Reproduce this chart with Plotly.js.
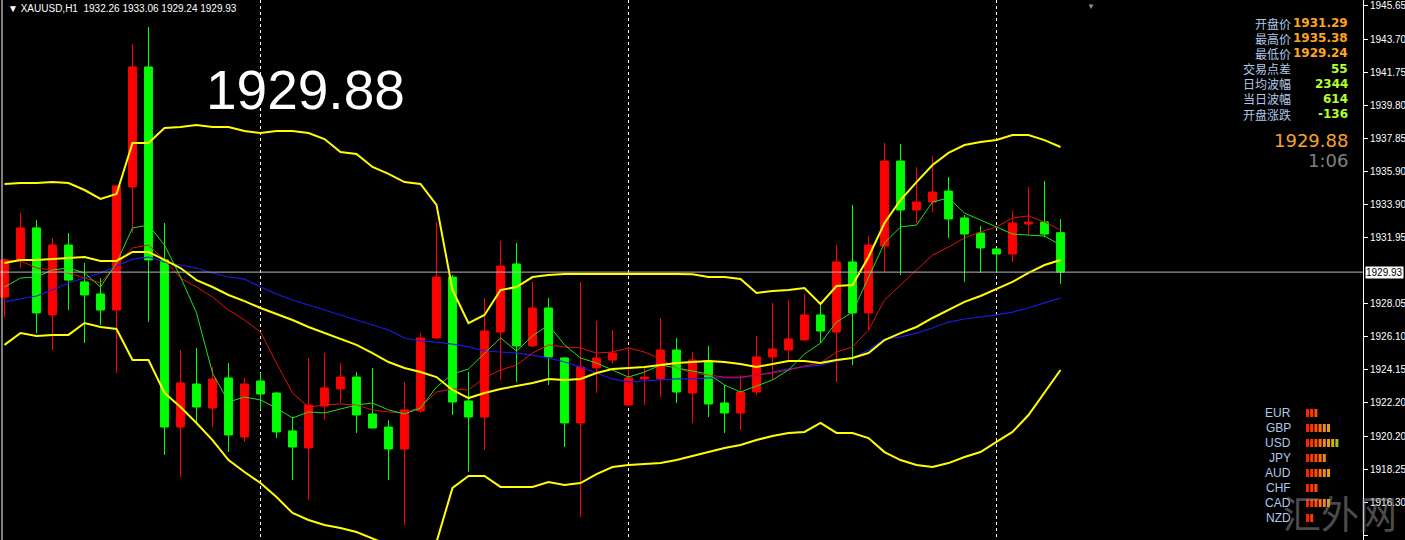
<!DOCTYPE html>
<html><head><meta charset="utf-8">
<script src="https://cdn.plot.ly/plotly-3.0.1.min.js"></script>
<style>html,body{margin:0;padding:0;background:#000;overflow:hidden}#chart{width:1405px;height:540px}</style>
</head><body><div id="chart"></div>
<script>
// ---------------- DATA ----------------
const symbol = 'XAUUSD,H1';
const openP = [1928.46,1930.65,1932.54,1927.40,1931.53,1929.35,1928.64,1927.69,1934.96,1942.05,
 1930.65,1920.78,1923.32,1921.90,1923.68,1920.19,1923.50,1922.79,1920.55,1919.54,
 1922.02,1923.03,1923.73,1921.55,1920.78,1919.48,1921.73,1926.04,1929.64,1922.32,
 1921.37,1926.39,1930.41,1925.57,1927.81,1924.86,1921.02,1924.27,1924.74,1922.08,
 1923.62,1923.62,1925.33,1922.79,1924.68,1922.20,1921.61,1922.85,1924.92,1925.33,
 1925.92,1927.40,1926.39,1930.53,1927.52,1931.47,1936.49,1933.60,1934.07,1934.72,
 1933.13,1932.24,1931.30,1931.00,1932.77,1932.89,1932.26];
const highP = [1930.76,1933.42,1933.01,1931.95,1932.24,1930.47,1929.58,1935.05,1943.41,1944.41,
 1932.83,1925.33,1925.45,1924.33,1924.56,1923.68,1923.97,1922.85,1921.37,1924.86,
 1925.15,1924.56,1924.03,1924.27,1921.19,1923.44,1926.33,1932.89,1929.76,1924.03,
 1928.40,1931.77,1931.65,1929.35,1928.40,1924.90,1929.35,1927.04,1926.51,1925.51,
 1924.33,1927.22,1926.04,1925.21,1925.57,1923.26,1923.85,1926.16,1928.11,1928.28,
 1928.64,1927.99,1931.53,1933.90,1932.06,1937.56,1937.50,1936.14,1936.79,1935.55,
 1933.30,1932.65,1931.35,1933.54,1934.96,1935.31,1933.06];
const lowP = [1927.28,1930.17,1926.33,1925.33,1927.69,1925.74,1926.81,1923.97,1932.24,1926.98,
 1919.13,1917.83,1921.02,1920.78,1919.30,1919.90,1921.79,1920.13,1917.65,1916.47,
 1921.19,1922.20,1920.43,1920.70,1917.65,1914.99,1921.61,1925.98,1921.49,1918.12,
 1919.42,1923.56,1923.44,1925.50,1923.26,1919.60,1915.47,1922.79,1924.50,1922.02,
 1922.08,1922.55,1922.20,1921.02,1921.37,1920.43,1920.60,1922.67,1923.56,1924.74,
 1925.90,1925.74,1923.44,1924.44,1926.51,1929.94,1929.76,1932.83,1933.48,1931.95,
 1929.35,1929.88,1929.88,1930.53,1932.12,1932.00,1929.24];
const closeP = [1930.65,1932.54,1927.52,1931.53,1929.46,1928.58,1927.69,1935.02,1942.05,1930.65,
 1920.78,1923.38,1921.96,1923.62,1920.31,1923.32,1922.73,1920.49,1919.60,1922.08,
 1923.09,1923.73,1921.49,1920.72,1919.48,1921.79,1926.04,1929.64,1922.26,1921.37,
 1926.45,1930.29,1925.57,1927.81,1924.92,1921.02,1924.33,1924.86,1925.15,1923.68,
 1923.73,1925.33,1922.85,1924.74,1922.14,1921.61,1922.85,1924.92,1925.39,1925.98,
 1927.40,1926.45,1930.53,1927.52,1931.53,1936.49,1933.60,1934.07,1934.66,1933.07,
 1932.18,1931.36,1931.00,1932.83,1932.89,1932.18,1929.93];

const bbUpper = [1935.14,1935.19,1935.19,1935.25,1935.19,1934.78,1934.25,1934.54,1937.56,1937.56,
 1938.44,1938.50,1938.62,1938.50,1938.50,1938.27,1938.15,1938.27,1938.27,1938.15,
 1937.79,1937.03,1936.91,1936.14,1935.73,1935.25,1935.14,1933.90,1928.87,1926.92,
 1927.40,1928.87,1929.05,1929.64,1929.76,1929.82,1929.82,1929.82,1929.82,1929.82,
 1929.82,1929.85,1929.82,1929.80,1929.64,1929.64,1929.52,1928.70,1928.81,1928.87,
 1928.99,1928.05,1929.11,1929.17,1930.82,1932.83,1934.19,1935.25,1936.26,1936.97,
 1937.44,1937.62,1937.73,1938.03,1938.03,1937.73,1937.32];
const bbMiddle = [1930.47,1930.65,1930.65,1930.70,1930.76,1930.82,1930.59,1930.59,1931.12,1931.12,
 1930.65,1930.17,1929.46,1929.05,1928.58,1928.22,1927.81,1927.46,1927.10,1926.69,
 1926.33,1925.98,1925.63,1925.15,1924.62,1924.27,1924.03,1923.73,1922.97,1922.49,
 1922.79,1923.03,1923.20,1923.38,1923.62,1923.56,1923.62,1923.97,1924.21,1924.27,
 1924.33,1924.44,1924.56,1924.62,1924.68,1924.62,1924.50,1924.33,1924.50,1924.68,
 1924.68,1924.56,1924.74,1924.86,1925.15,1925.92,1926.33,1926.69,1927.22,1927.69,
 1928.17,1928.52,1928.93,1929.35,1929.88,1930.35,1930.65];
const bbLower = [1925.63,1926.33,1926.16,1926.22,1926.22,1926.92,1926.69,1926.57,1924.74,1924.74,
 1922.79,1921.96,1921.02,1920.01,1918.83,1918.12,1917.47,1916.65,1915.70,1915.29,
 1914.99,1914.82,1914.58,1914.22,1913.81,1913.52,1913.40,1913.99,1917.18,1917.89,
 1917.89,1917.24,1917.24,1917.24,1917.53,1917.35,1917.47,1918.00,1918.42,1918.54,
 1918.60,1918.65,1918.83,1919.07,1919.30,1919.54,1919.72,1920.01,1920.25,1920.43,
 1920.49,1921.02,1920.43,1920.43,1920.13,1919.30,1918.83,1918.54,1918.42,1918.65,
 1919.01,1919.30,1919.90,1920.49,1921.49,1922.85,1924.15];
const maFast = [1929.05,1929.58,1929.64,1930.06,1930.17,1929.88,1929.05,1930.47,1932.54,1932.71,
 1931.53,1929.64,1927.52,1923.97,1922.26,1922.55,1922.38,1921.90,1921.31,1921.67,
 1921.61,1921.84,1922.08,1922.20,1921.79,1921.55,1921.90,1923.14,1923.91,1924.21,
 1925.15,1926.04,1925.27,1926.16,1926.81,1925.63,1924.86,1924.56,1924.15,1923.73,
 1924.03,1924.44,1924.27,1924.09,1923.91,1923.26,1922.85,1923.20,1923.56,1924.15,
 1925.09,1925.74,1926.98,1927.57,1929.64,1931.65,1932.60,1932.71,1934.07,1934.31,
 1933.42,1933.01,1932.60,1932.18,1932.12,1932.06,1931.53];
const maMid = [1930.65,1930.59,1930.17,1930.06,1929.88,1929.58,1929.29,1930.35,1931.36,1931.53,
 1930.65,1929.58,1929.05,1928.46,1927.69,1927.10,1926.39,1924.56,1922.79,1921.96,
 1922.08,1922.14,1922.08,1921.79,1921.67,1921.61,1921.96,1922.85,1923.03,1922.97,
 1923.68,1924.15,1924.44,1925.15,1925.63,1925.51,1925.45,1925.15,1925.21,1925.45,
 1925.21,1924.80,1924.27,1923.97,1923.85,1923.73,1923.73,1923.85,1923.97,1924.15,
 1924.38,1924.56,1925.21,1925.51,1926.51,1928.28,1929.17,1930.06,1930.94,1931.41,
 1931.95,1932.30,1932.60,1933.13,1933.25,1932.89,1932.42];
const maSlow = [1928.17,1928.34,1928.52,1928.87,1929.29,1929.58,1929.88,1930.29,1930.70,1930.82,
 1930.53,1930.35,1930.17,1929.88,1929.64,1929.52,1929.05,1928.64,1928.28,1927.99,
 1927.69,1927.40,1927.10,1926.81,1926.51,1926.04,1925.86,1925.80,1925.68,1925.51,
 1925.27,1925.21,1925.15,1925.03,1924.86,1924.62,1924.33,1923.97,1923.62,1923.44,
 1923.50,1923.56,1923.62,1923.62,1923.68,1923.68,1923.68,1923.85,1924.03,1924.21,
 1924.33,1924.44,1924.68,1924.86,1925.33,1925.98,1926.10,1926.33,1926.63,1926.98,
 1927.16,1927.28,1927.40,1927.57,1927.81,1928.11,1928.40];

const yTickValues = [1945.65,1943.70,1941.75,1939.80,1937.85,1935.90,1933.90,1931.95,
 1928.05,1926.10,1924.15,1922.20,1920.20,1918.25,1916.30,1914.35];
const yTickLabels = ['1945.65','1943.70','1941.75','1939.80','1937.85','1935.90','1933.90','1931.95',
 '1928.05','1926.10','1924.15','1922.20','1920.20','1918.25','1916.30','1914.35'];
const separators = [16, 39, 62];

const bigPrice = '1929.88';
const timerText = '1:06';
const infoLabels = ['开盘价','最高价','最低价','交易点差','日均波幅','当日波幅','开盘涨跌'];
const infoValues = ['1931.29','1935.38','1929.24','55','2344','614','-136'];
const currencies = ['EUR','GBP','USD','JPY','AUD','CHF','CAD','NZD'];
const strength = [3,6,8,5,6,3,6,2];
const watermark = '汇外网';

// ---------------- CHART ----------------
const n = closeP.length;
const idx = Array.from({length:n}, (_, i) => i);
const W = 1405, H = 540, PW = 1363;
const px = v => v / PW;           // pixel -> paper x
const py = v => 1 - v / H;        // pixel -> paper y

const traces = [
  {type:'candlestick', x:idx, open:openP, high:highP, low:lowP, close:closeP,
   increasing:{line:{color:'#ff0000', width:1}, fillcolor:'#ff0000'},
   decreasing:{line:{color:'#00ff00', width:1}, fillcolor:'#00ff00'},
   whiskerwidth:0, hoverinfo:'skip', showlegend:false},
  {type:'scatter', mode:'lines', x:idx, y:maSlow, line:{color:'#1a1ae6', width:1.2}, hoverinfo:'skip', showlegend:false},
  {type:'scatter', mode:'lines', x:idx, y:maMid, line:{color:'#e01010', width:1}, hoverinfo:'skip', showlegend:false},
  {type:'scatter', mode:'lines', x:idx, y:maFast, line:{color:'#20e020', width:1}, hoverinfo:'skip', showlegend:false},
  {type:'scatter', mode:'lines', x:idx, y:bbUpper, line:{color:'#ffff00', width:2}, hoverinfo:'skip', showlegend:false},
  {type:'scatter', mode:'lines', x:idx, y:bbMiddle, line:{color:'#ffff00', width:2}, hoverinfo:'skip', showlegend:false},
  {type:'scatter', mode:'lines', x:idx, y:bbLower, line:{color:'#ffff00', width:2}, hoverinfo:'skip', showlegend:false}
];

const last = n - 1;
const fmt = v => v.toFixed(2);
const annotations = [];
annotations.push({xref:'paper', yref:'paper', x:px(6), y:py(8), xanchor:'left', yanchor:'middle', showarrow:false,
  text:'▼ ' + symbol + '  ' + [openP[last],highP[last],lowP[last],closeP[last]].map(fmt).join(' '),
  font:{family:'Liberation Sans, Arial, sans-serif', size:10, color:'#ffffff'}});
annotations.push({xref:'paper', yref:'paper', x:px(204), y:py(90), xanchor:'left', yanchor:'middle', showarrow:false,
  text:bigPrice, font:{family:'Liberation Sans, Arial, sans-serif', size:55, color:'#ffffff'}});
infoLabels.forEach((lab, k) => {
  const yy = py(23 + 15.17 * k);
  annotations.push({xref:'paper', yref:'paper', x:px(1293), y:yy, xanchor:'right', yanchor:'middle', showarrow:false,
    text:lab, font:{family:'Noto Sans CJK SC, sans-serif', size:12, color:'#b0c8e8'}});
  annotations.push({xref:'paper', yref:'paper', x:px(1350), y:yy, xanchor:'right', yanchor:'middle', showarrow:false,
    text:'<b>' + infoValues[k] + '</b>', font:{family:'DejaVu Sans, sans-serif', size:12, color: k < 3 ? '#ffa520' : '#b4ff30'}});
});
annotations.push({xref:'paper', yref:'paper', x:px(1350), y:py(140), xanchor:'right', yanchor:'middle', showarrow:false,
  text:bigPrice, font:{family:'DejaVu Sans, sans-serif', size:18, color:'#f5a030'}});
annotations.push({xref:'paper', yref:'paper', x:px(1350), y:py(160), xanchor:'right', yanchor:'middle', showarrow:false,
  text:timerText, font:{family:'DejaVu Sans, sans-serif', size:18, color:'#808080'}});
// watermark
annotations.push({xref:'paper', yref:'paper', x:px(1340), y:py(511), xanchor:'center', yanchor:'middle', showarrow:false,
  text:watermark, font:{family:'Noto Sans CJK SC, sans-serif', size:38, color:'rgba(150,150,150,0.5)'}});
currencies.forEach((c, k) => {
  annotations.push({xref:'paper', yref:'paper', x:px(1293), y:py(413 + 15 * k), xanchor:'right', yanchor:'middle', showarrow:false,
    text:c, font:{family:'Liberation Sans, Arial, sans-serif', size:12, color:'#b0c8e8'}});
});
// current price label on axis
annotations.push({xref:'paper', yref:'y', x:1, y:closeP[last], xanchor:'left', yanchor:'middle', xshift:2, showarrow:false,
  text:fmt(closeP[last]), bgcolor:'#ffffff', borderpad:0,
  font:{family:'Liberation Sans, Arial, sans-serif', size:10, color:'#000000'}});
// shift marker
annotations.push({xref:'paper', yref:'paper', x:px(1091), y:py(5), xanchor:'center', yanchor:'middle', showarrow:false,
  text:'▼', font:{size:8, color:'#909090'}});

const barColors = ['#ff2000','#ff3800','#ff5000','#ff7000','#f58c00','#e8a000','#d8b000','#a8c020'];
const shapes = [];
shapes.push({type:'line', xref:'paper', yref:'y', x0:0, x1:1, y0:closeP[last], y1:closeP[last],
  line:{color:'#b8b8b8', width:1}});
shapes.push({type:'line', xref:'paper', yref:'paper', x0:px(2), x1:px(2), y0:0, y1:1, line:{color:'#ffffff', width:1}});
strength.forEach((s, k) => {
  const yc = 413 + 15 * k;
  for (let j = 0; j < s; j++) {
    const x0 = 1306 + j * 4.2;
    shapes.push({type:'rect', xref:'paper', yref:'paper', x0:px(x0), x1:px(x0 + 3), y0:py(yc + 4), y1:py(yc - 4),
      line:{width:0}, fillcolor:barColors[j]});
  }
});

const layout = {
  width:W, height:H, margin:{l:0, r:W - PW, t:0, b:0},
  paper_bgcolor:'#000000', plot_bgcolor:'#000000', showlegend:false,
  xaxis:{range:[-0.281, 84.906], tickvals:separators, showticklabels:false, ticks:'',
    showgrid:true, gridcolor:'#ffffff', gridwidth:1, griddash:'3px,3px', zeroline:false, showline:false,
    rangeslider:{visible:false}, fixedrange:true},
  yaxis:{side:'right', range:[1914.106, 1946.004], tickvals:yTickValues, ticktext:yTickLabels,
    showgrid:false, zeroline:false, showline:true, linecolor:'#ffffff', linewidth:1,
    ticks:'outside', ticklen:4, tickcolor:'#ffffff',
    tickfont:{family:'Liberation Sans, Arial, sans-serif', size:10, color:'#ffffff'}, fixedrange:true},
  annotations, shapes
};
Plotly.newPlot('chart', traces, layout, {staticPlot:true, displayModeBar:false});
</script></body></html>
